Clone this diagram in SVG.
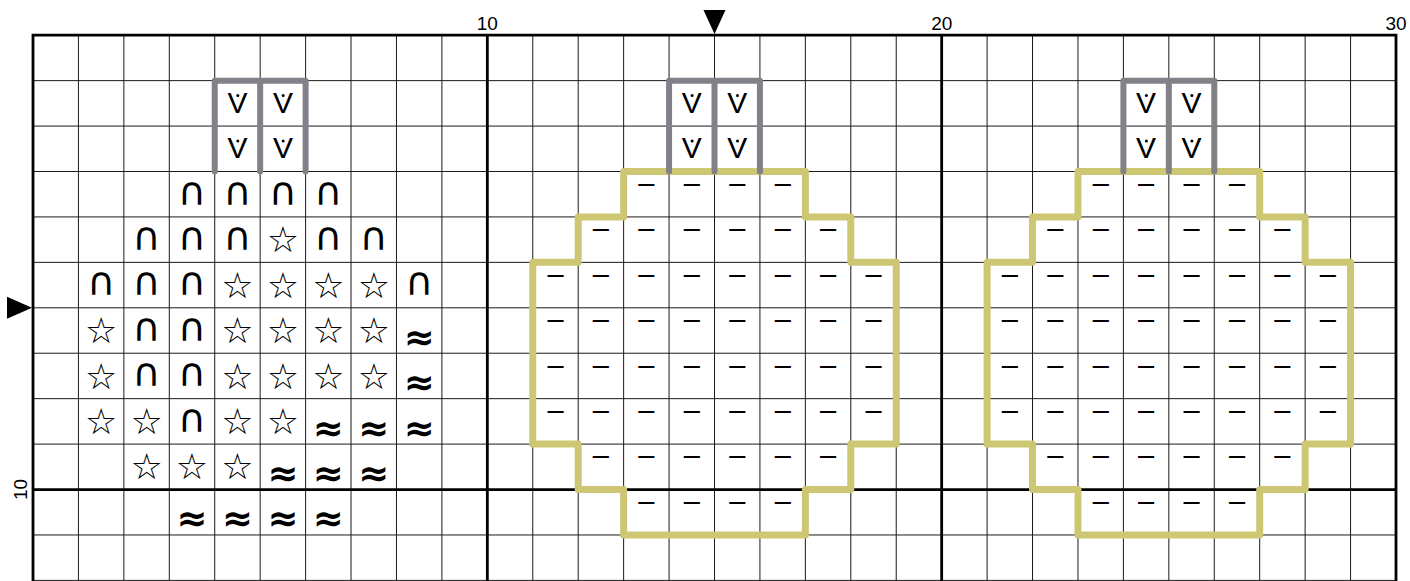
<svg xmlns="http://www.w3.org/2000/svg" width="1410" height="581" viewBox="0 0 1410 581">
<style>
.grid{fill:none;stroke:#1a1a1a;stroke-width:1}
.thick{fill:none;stroke:#000;stroke-width:2.8;stroke-linecap:square}
.gray{fill:none;stroke:#818187;stroke-width:6;stroke-linecap:round;stroke-linejoin:round}
.yel{fill:none;stroke:#cdc774;stroke-width:7;stroke-linejoin:round;stroke-linecap:round}
.lab{font-family:"Liberation Sans",Arial,sans-serif;font-size:19px;fill:#000;text-anchor:middle}
text.s{text-anchor:middle;fill:#000}
.v{font-family:"Liberation Sans",Arial,sans-serif;font-size:30px}
.d{font-family:"Liberation Sans",Arial,sans-serif;font-size:29px}
.n{font-family:"DejaVu Sans",sans-serif;font-size:39px}
.st{font-family:"DejaVu Sans",sans-serif;font-size:36px}
.ap{font-family:"DejaVu Sans",sans-serif;font-size:37px;font-weight:bold}
</style>
<rect x="0" y="0" width="1410" height="581" fill="#fff"/>
<g id="grid">
<path class="grid" d="M78.43 35.2V580.4M123.87 35.2V580.4M169.3 35.2V580.4M214.73 35.2V580.4M260.17 35.2V580.4M305.6 35.2V580.4M351.03 35.2V580.4M396.47 35.2V580.4M441.9 35.2V580.4M532.77 35.2V580.4M578.2 35.2V580.4M623.63 35.2V580.4M669.07 35.2V580.4M714.5 35.2V580.4M759.93 35.2V580.4M805.37 35.2V580.4M850.8 35.2V580.4M896.23 35.2V580.4M987.1 35.2V580.4M1032.53 35.2V580.4M1077.97 35.2V580.4M1123.4 35.2V580.4M1168.83 35.2V580.4M1214.27 35.2V580.4M1259.7 35.2V580.4M1305.13 35.2V580.4M1350.57 35.2V580.4M33 80.63H1396M33 126.07H1396M33 171.5H1396M33 216.93H1396M33 262.37H1396M33 307.8H1396M33 353.23H1396M33 398.67H1396M33 444.1H1396M33 534.97H1396M33 580.4H1396"/>
<path class="thick" d="M33 35.2H1396M33 35.2V580.4M1396 35.2V580.4M487.33 35.2V580.4M941.67 35.2V580.4M33 489.53H1396"/>
</g>
<g id="labels">
<text class="lab" x="487.3" y="30">10</text>
<text class="lab" x="941.7" y="30">20</text>
<text class="lab" x="1396" y="30">30</text>
<text class="lab" transform="translate(26.5 489.5) rotate(-90)">10</text>
<polygon points="703.5,10 725.5,10 714.5,34" fill="#000"/>
<polygon points="7,296.8 7,318.8 32,307.8" fill="#000"/>
</g>
<g id="outlines">
<path class="yel" d="M623.63 171.5H805.37V216.93H850.8V262.37H896.23V444.1H850.8V489.53H805.37V534.97H623.63V489.53H578.2V444.1H532.77V262.37H578.2V216.93H623.63Z"/>
<path class="yel" d="M1077.97 171.5H1259.7V216.93H1305.13V262.37H1350.57V444.1H1305.13V489.53H1259.7V534.97H1077.97V489.53H1032.53V444.1H987.1V262.37H1032.53V216.93H1077.97Z"/>
<path class="gray" d="M214.73 171.5V80.63H305.6V171.5M260.17 80.63V171.5"/>
<path class="gray" d="M669.07 171.5V80.63H759.93V171.5M714.5 80.63V171.5"/>
<path class="gray" d="M1123.4 171.5V80.63H1214.27V171.5M1168.83 80.63V171.5"/>
</g>
<g id="left-chart">
<text class="s v" x="237.5" y="112.9">V</text><text class="s v" x="282.9" y="112.9">V</text>
<text class="s v" x="237.5" y="158.4">V</text><text class="s v" x="282.9" y="158.4">V</text>
<g fill="#000"><circle cx="237.8" cy="95.6" r="1.5"/><circle cx="283.2" cy="95.6" r="1.5"/><circle cx="237.8" cy="141.1" r="1.5"/><circle cx="283.2" cy="141.1" r="1.5"/></g>
<text class="s n" x="192" y="204.5">∩</text><text class="s n" x="237.5" y="204.5">∩</text><text class="s n" x="282.9" y="204.5">∩</text><text class="s n" x="328.3" y="204.5">∩</text>
<text class="s n" x="146.6" y="249.9">∩</text><text class="s n" x="192" y="249.9">∩</text><text class="s n" x="237.5" y="249.9">∩</text><text class="s st" x="282.9" y="252.2">☆</text><text class="s n" x="328.3" y="249.9">∩</text><text class="s n" x="373.8" y="249.9">∩</text>
<text class="s n" x="101.2" y="295.4">∩</text><text class="s n" x="146.6" y="295.4">∩</text><text class="s n" x="192" y="295.4">∩</text><text class="s st" x="237.5" y="297.7">☆</text><text class="s st" x="282.9" y="297.7">☆</text><text class="s st" x="328.3" y="297.7">☆</text><text class="s st" x="373.8" y="297.7">☆</text><text class="s n" x="419.2" y="295.4">∩</text>
<text class="s st" x="101.2" y="343.1">☆</text><text class="s n" x="146.6" y="340.8">∩</text><text class="s n" x="192" y="340.8">∩</text><text class="s st" x="237.5" y="343.1">☆</text><text class="s st" x="282.9" y="343.1">☆</text><text class="s st" x="328.3" y="343.1">☆</text><text class="s st" x="373.8" y="343.1">☆</text><text class="s ap" x="419.2" y="349.6">≈</text>
<text class="s st" x="101.2" y="388.5">☆</text><text class="s n" x="146.6" y="386.2">∩</text><text class="s n" x="192" y="386.2">∩</text><text class="s st" x="237.5" y="388.5">☆</text><text class="s st" x="282.9" y="388.5">☆</text><text class="s st" x="328.3" y="388.5">☆</text><text class="s st" x="373.8" y="388.5">☆</text><text class="s ap" x="419.2" y="395">≈</text>
<text class="s st" x="101.2" y="434">☆</text><text class="s st" x="146.6" y="434">☆</text><text class="s n" x="192" y="431.7">∩</text><text class="s st" x="237.5" y="434">☆</text><text class="s st" x="282.9" y="434">☆</text><text class="s ap" x="328.3" y="440.5">≈</text><text class="s ap" x="373.8" y="440.5">≈</text><text class="s ap" x="419.2" y="440.5">≈</text>
<text class="s st" x="146.6" y="479.4">☆</text><text class="s st" x="192" y="479.4">☆</text><text class="s st" x="237.5" y="479.4">☆</text><text class="s ap" x="282.9" y="485.9">≈</text><text class="s ap" x="328.3" y="485.9">≈</text><text class="s ap" x="373.8" y="485.9">≈</text>
<text class="s ap" x="192" y="531.3">≈</text><text class="s ap" x="237.5" y="531.3">≈</text><text class="s ap" x="282.9" y="531.3">≈</text><text class="s ap" x="328.3" y="531.3">≈</text>
</g>
<g id="middle-chart">
<text class="s v" x="691.8" y="112.9">V</text><text class="s v" x="737.2" y="112.9">V</text>
<text class="s v" x="691.8" y="158.4">V</text><text class="s v" x="737.2" y="158.4">V</text>
<g fill="#000"><circle cx="692.1" cy="95.6" r="1.5"/><circle cx="737.5" cy="95.6" r="1.5"/><circle cx="692.1" cy="141.1" r="1.5"/><circle cx="737.5" cy="141.1" r="1.5"/></g>
<text class="s d" x="646.4" y="192.8">–</text><text class="s d" x="691.8" y="192.8">–</text><text class="s d" x="737.2" y="192.8">–</text><text class="s d" x="782.7" y="192.8">–</text>
<text class="s d" x="600.9" y="238.2">–</text><text class="s d" x="646.4" y="238.2">–</text><text class="s d" x="691.8" y="238.2">–</text><text class="s d" x="737.2" y="238.2">–</text><text class="s d" x="782.7" y="238.2">–</text><text class="s d" x="828.1" y="238.2">–</text>
<text class="s d" x="555.5" y="283.7">–</text><text class="s d" x="600.9" y="283.7">–</text><text class="s d" x="646.4" y="283.7">–</text><text class="s d" x="691.8" y="283.7">–</text><text class="s d" x="737.2" y="283.7">–</text><text class="s d" x="782.7" y="283.7">–</text><text class="s d" x="828.1" y="283.7">–</text><text class="s d" x="873.5" y="283.7">–</text>
<text class="s d" x="555.5" y="329.1">–</text><text class="s d" x="600.9" y="329.1">–</text><text class="s d" x="646.4" y="329.1">–</text><text class="s d" x="691.8" y="329.1">–</text><text class="s d" x="737.2" y="329.1">–</text><text class="s d" x="782.7" y="329.1">–</text><text class="s d" x="828.1" y="329.1">–</text><text class="s d" x="873.5" y="329.1">–</text>
<text class="s d" x="555.5" y="374.5">–</text><text class="s d" x="600.9" y="374.5">–</text><text class="s d" x="646.4" y="374.5">–</text><text class="s d" x="691.8" y="374.5">–</text><text class="s d" x="737.2" y="374.5">–</text><text class="s d" x="782.7" y="374.5">–</text><text class="s d" x="828.1" y="374.5">–</text><text class="s d" x="873.5" y="374.5">–</text>
<text class="s d" x="555.5" y="420">–</text><text class="s d" x="600.9" y="420">–</text><text class="s d" x="646.4" y="420">–</text><text class="s d" x="691.8" y="420">–</text><text class="s d" x="737.2" y="420">–</text><text class="s d" x="782.7" y="420">–</text><text class="s d" x="828.1" y="420">–</text><text class="s d" x="873.5" y="420">–</text>
<text class="s d" x="600.9" y="465.4">–</text><text class="s d" x="646.4" y="465.4">–</text><text class="s d" x="691.8" y="465.4">–</text><text class="s d" x="737.2" y="465.4">–</text><text class="s d" x="782.7" y="465.4">–</text><text class="s d" x="828.1" y="465.4">–</text>
<text class="s d" x="646.4" y="510.8">–</text><text class="s d" x="691.8" y="510.8">–</text><text class="s d" x="737.2" y="510.8">–</text><text class="s d" x="782.7" y="510.8">–</text>
</g>
<g id="right-chart">
<text class="s v" x="1146.1" y="112.9">V</text><text class="s v" x="1191.6" y="112.9">V</text>
<text class="s v" x="1146.1" y="158.4">V</text><text class="s v" x="1191.6" y="158.4">V</text>
<g fill="#000"><circle cx="1146.4" cy="95.6" r="1.5"/><circle cx="1191.9" cy="95.6" r="1.5"/><circle cx="1146.4" cy="141.1" r="1.5"/><circle cx="1191.9" cy="141.1" r="1.5"/></g>
<text class="s d" x="1100.7" y="192.8">–</text><text class="s d" x="1146.1" y="192.8">–</text><text class="s d" x="1191.6" y="192.8">–</text><text class="s d" x="1237" y="192.8">–</text>
<text class="s d" x="1055.3" y="238.2">–</text><text class="s d" x="1100.7" y="238.2">–</text><text class="s d" x="1146.1" y="238.2">–</text><text class="s d" x="1191.6" y="238.2">–</text><text class="s d" x="1237" y="238.2">–</text><text class="s d" x="1282.4" y="238.2">–</text>
<text class="s d" x="1009.8" y="283.7">–</text><text class="s d" x="1055.3" y="283.7">–</text><text class="s d" x="1100.7" y="283.7">–</text><text class="s d" x="1146.1" y="283.7">–</text><text class="s d" x="1191.6" y="283.7">–</text><text class="s d" x="1237" y="283.7">–</text><text class="s d" x="1282.4" y="283.7">–</text><text class="s d" x="1327.9" y="283.7">–</text>
<text class="s d" x="1009.8" y="329.1">–</text><text class="s d" x="1055.3" y="329.1">–</text><text class="s d" x="1100.7" y="329.1">–</text><text class="s d" x="1146.1" y="329.1">–</text><text class="s d" x="1191.6" y="329.1">–</text><text class="s d" x="1237" y="329.1">–</text><text class="s d" x="1282.4" y="329.1">–</text><text class="s d" x="1327.9" y="329.1">–</text>
<text class="s d" x="1009.8" y="374.5">–</text><text class="s d" x="1055.3" y="374.5">–</text><text class="s d" x="1100.7" y="374.5">–</text><text class="s d" x="1146.1" y="374.5">–</text><text class="s d" x="1191.6" y="374.5">–</text><text class="s d" x="1237" y="374.5">–</text><text class="s d" x="1282.4" y="374.5">–</text><text class="s d" x="1327.9" y="374.5">–</text>
<text class="s d" x="1009.8" y="420">–</text><text class="s d" x="1055.3" y="420">–</text><text class="s d" x="1100.7" y="420">–</text><text class="s d" x="1146.1" y="420">–</text><text class="s d" x="1191.6" y="420">–</text><text class="s d" x="1237" y="420">–</text><text class="s d" x="1282.4" y="420">–</text><text class="s d" x="1327.9" y="420">–</text>
<text class="s d" x="1055.3" y="465.4">–</text><text class="s d" x="1100.7" y="465.4">–</text><text class="s d" x="1146.1" y="465.4">–</text><text class="s d" x="1191.6" y="465.4">–</text><text class="s d" x="1237" y="465.4">–</text><text class="s d" x="1282.4" y="465.4">–</text>
<text class="s d" x="1100.7" y="510.8">–</text><text class="s d" x="1146.1" y="510.8">–</text><text class="s d" x="1191.6" y="510.8">–</text><text class="s d" x="1237" y="510.8">–</text>
</g>
</svg>
